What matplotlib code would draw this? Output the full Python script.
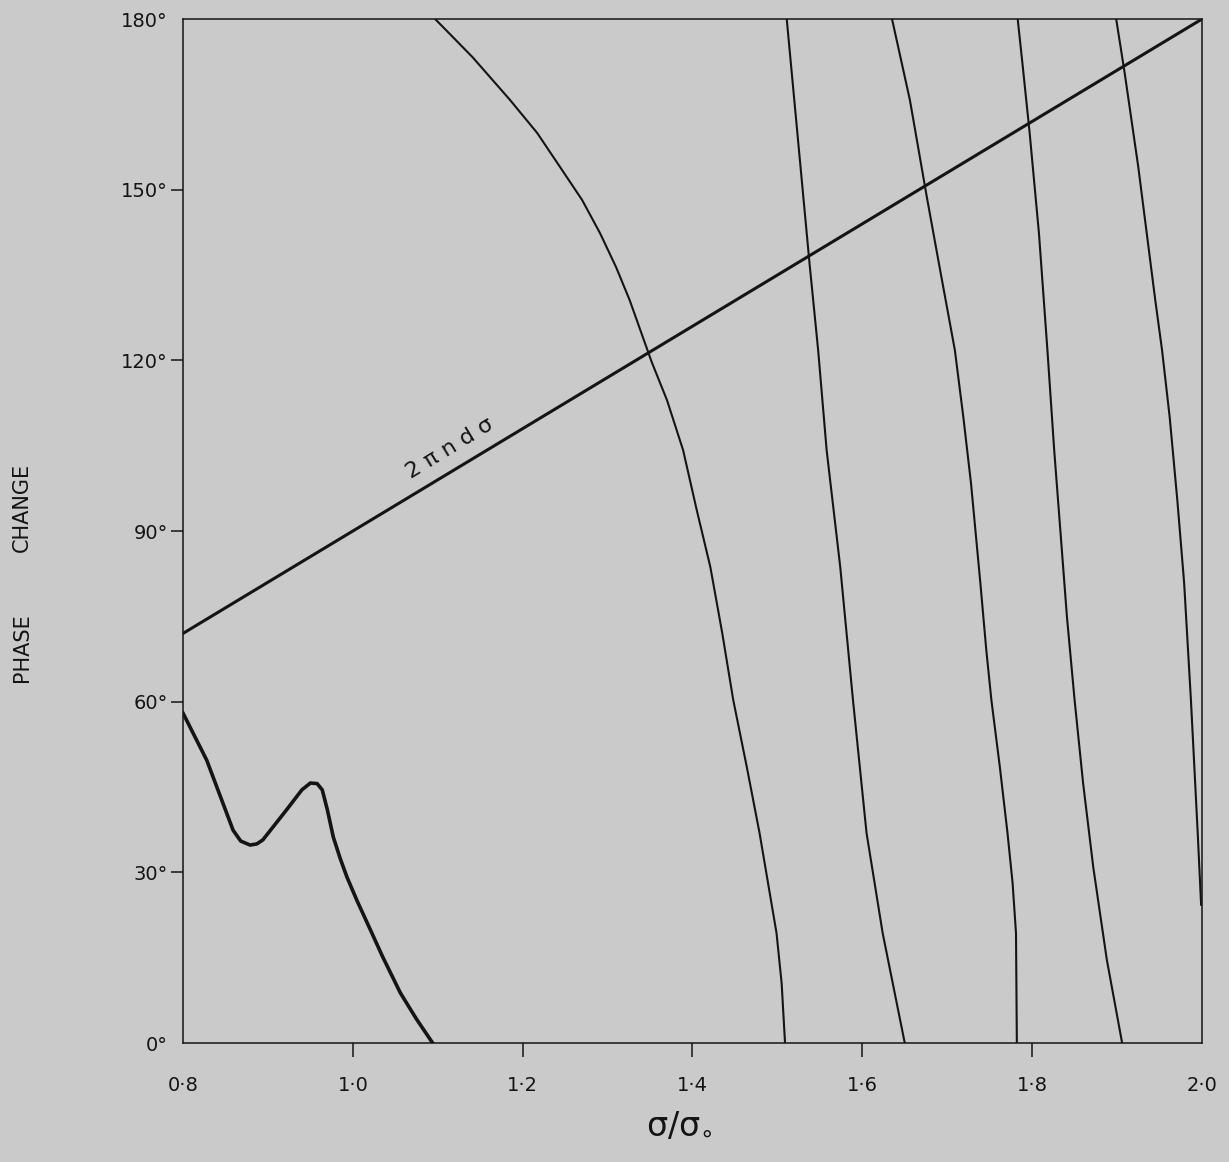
import matplotlib
matplotlib.use("Agg")
import matplotlib.pyplot as plt

# straight line 2*pi*n*d*sigma
line_x = [0.8, 2.0]
line_y = [72, 180]

# thick curve, lower left
c1_x = [0.800, 0.828, 0.859, 0.868, 0.879, 0.887, 0.894, 0.922, 0.940, 0.950, 0.958,
        0.964, 0.970, 0.977, 0.985, 0.993, 1.005, 1.017, 1.035, 1.056, 1.075, 1.094]
c1_y = [58.0, 49.7, 37.4, 35.5, 34.8, 35.0, 35.7, 41.0, 44.5, 45.7, 45.6,
        44.5, 41.0, 36.2, 32.5, 29.2, 25.0, 21.1, 15.2, 8.8, 4.2, 0.0]

# thin curves, left to right
c2_x = [1.097, 1.141, 1.185, 1.217, 1.244, 1.270, 1.291, 1.310, 1.326, 1.352, 1.370,
        1.389, 1.405, 1.421, 1.435, 1.448, 1.464, 1.479, 1.489, 1.499, 1.505, 1.509]
c2_y = [180, 173.3, 165.8, 160.0, 154.0, 148.2, 142.4, 136.4, 130.6, 119.7, 113.0,
        104.2, 93.7, 83.7, 72.1, 60.3, 48.5, 36.9, 28.1, 19.3, 10.5, 0]

c3_x = [1.511, 1.538, 1.548, 1.558, 1.574, 1.589, 1.605, 1.624, 1.650]
c3_y = [180, 136.8, 121.8, 104.2, 83.7, 60.3, 36.9, 19.3, 0]

c4_x = [1.635, 1.656, 1.676, 1.691, 1.709, 1.719, 1.728, 1.739, 1.746, 1.752, 1.762,
        1.771, 1.777, 1.781, 1.782]
c4_y = [180, 165.8, 148.7, 136.4, 121.8, 110.0, 98.4, 80.9, 69.1, 60.3, 48.5,
        36.9, 28.1, 19.3, 0]

c5_x = [1.783, 1.789, 1.797, 1.808, 1.818, 1.826, 1.832, 1.841, 1.850, 1.860, 1.872,
        1.888, 1.906]
c5_y = [180, 171.6, 160.1, 142.4, 121.8, 104.2, 92.5, 74.9, 60.3, 45.7, 30.9,
        14.6, 0]

c6_x = [1.899, 1.909, 1.925, 1.945, 1.953, 1.962, 1.971, 1.979, 1.987, 1.992, 1.995, 1.999]
c6_y = [180, 170.5, 154.0, 130.6, 121.8, 110.0, 95.4, 80.9, 60.3, 45.7, 36.9, 24.3]

xticks = [0.8, 1.0, 1.2, 1.4, 1.6, 1.8, 2.0]
xlabels = ["0·8", "1·0", "1·2", "1·4", "1·6", "1·8", "2·0"]
yticks = [0, 30, 60, 90, 120, 150, 180]
ylabels = ["0°", "30°", "60°", "90°", "120°", "150°", "180°"]

paper = "#cacaca"
ink = "#141414"

fig = plt.figure(figsize=(12.29, 11.62), dpi=100, facecolor=paper)
ax = fig.add_axes([0.1489, 0.1024, 0.8291, 0.8812])
ax.set_facecolor(paper)

ax.plot(line_x, line_y, color=ink, lw=2.2, solid_capstyle="round")
ax.plot(c1_x, c1_y, color=ink, lw=2.6, solid_joinstyle="round")
for cx, cy in [(c2_x, c2_y), (c3_x, c3_y), (c4_x, c4_y), (c5_x, c5_y), (c6_x, c6_y)]:
    ax.plot(cx, cy, color=ink, lw=1.5, solid_joinstyle="round")

ax.text(1.114, 104.6, "2 π n d σ", rotation=31.4, rotation_mode="anchor",
        ha="center", va="center", fontsize=16, color=ink)

ax.set_xlim(0.8, 2.0)
ax.set_ylim(0, 180)
for s in ax.spines.values():
    s.set_color(ink)
    s.set_linewidth(1.1)

ax.set_xticks(xticks)
ax.set_xticklabels(xlabels, fontsize=14, color=ink)
ax.set_yticks(yticks)
ax.set_yticklabels(ylabels, fontsize=14, color=ink)
ax.tick_params(axis="x", direction="out", length=10, width=1.1, color=ink, pad=14)
ax.tick_params(axis="y", direction="out", length=9, width=1.1, color=ink, pad=2)
for t in [ax.xaxis.get_major_ticks()[0], ax.xaxis.get_major_ticks()[-1],
          ax.yaxis.get_major_ticks()[0], ax.yaxis.get_major_ticks()[-1]]:
    t.tick1line.set_visible(False)

fig.text(0.553, 0.018, r"$\mathregular{\sigma/\sigma_{\circ}}$", fontsize=24,
         ha="center", va="bottom", color=ink)
fig.text(0.018, 1 - 648 / 1162, "PHASE", rotation=90, ha="center", va="center",
         fontsize=15, color=ink)
fig.text(0.018, 1 - 507 / 1162, "CHANGE", rotation=90, ha="center", va="center",
         fontsize=15, color=ink)

fig.savefig("out.png", dpi=100, facecolor=paper)
